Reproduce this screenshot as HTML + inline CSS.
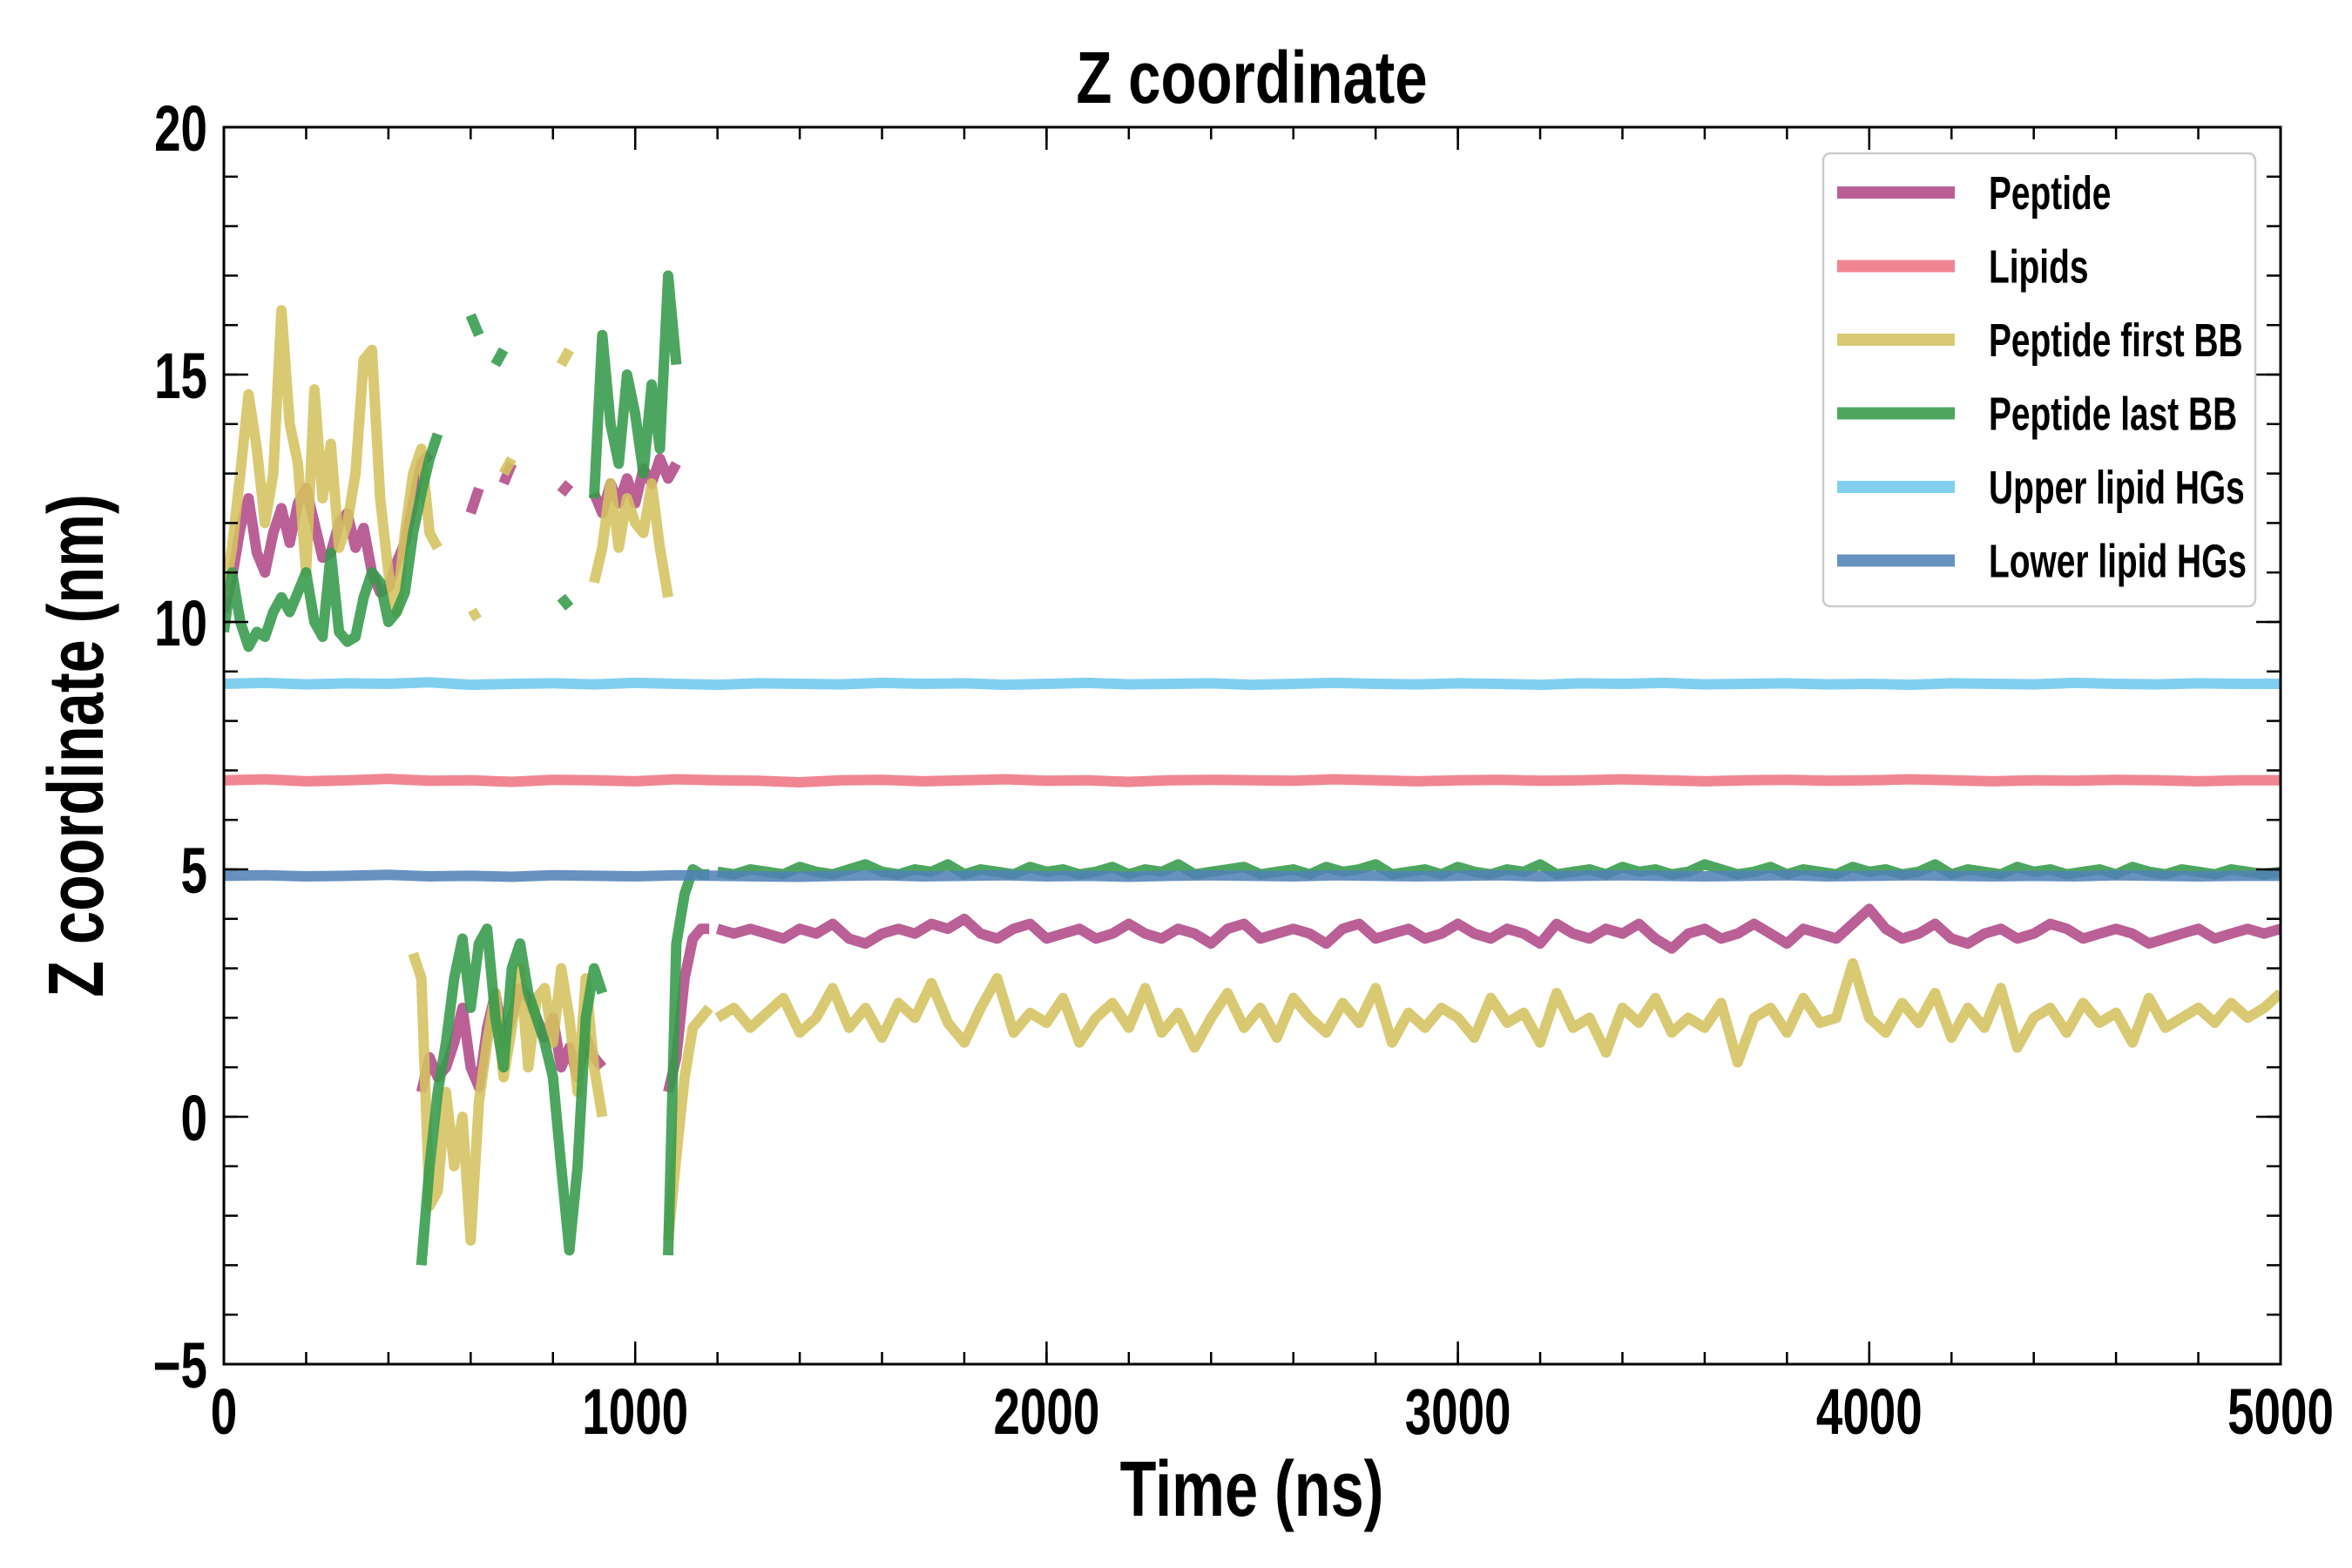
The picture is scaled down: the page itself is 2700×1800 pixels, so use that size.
<!DOCTYPE html>
<html><head><meta charset="utf-8">
<style>
html,body{margin:0;padding:0;background:#fff;}
svg{display:block;}
text{font-family:"Liberation Sans",sans-serif;font-weight:bold;fill:#000;}
</style></head>
<body>
<svg id="chart" width="2700" height="1800" viewBox="0 0 2700 1800" xmlns="http://www.w3.org/2000/svg">
<rect width="2700" height="1800" fill="#fff"/>
<text class="cond" data-r="0.8" x="1437" y="118" text-anchor="middle" font-size="84">Z coordinate</text>
<text class="cond" data-r="0.76" x="1437" y="1740" text-anchor="middle" font-size="90">Time (ns)</text>
<text class="cond" data-r="0.76" transform="translate(118,856) rotate(-90)" text-anchor="middle" font-size="90">Z coordinate (nm)</text>
<g id="marks"></g>
<g id="axes"></g>
<g id="legend"></g>
</svg>
<script>
const xTicks = [0,1000,2000,3000,4000,5000];
const yTicks = [-5,0,5,10,15,20];
const yTickLabels = ["\u22125","0","5","10","15","20"];
const seriesNames = ["Peptide","Lipids","Peptide first BB","Peptide last BB","Upper lipid HGs","Lower lipid HGs"];
const seriesColors = ["#b04a88","#ee7583","#d4c15e","#349a4a","#6fc8ec","#5282b6"];

// early window: t = 0..1180 step 20 (60 points); null = gap
const peptideHigh = [10.2,10.9,11.9,12.5,11.4,11.0,11.8,12.3,11.6,12.4,12.7,12.0,11.3,11.4,12.0,12.2,11.5,11.9,11.0,10.6,10.7,11.2,11.6,12.4,13.2,13.4,null,null,null,null,12.2,12.7,null,null,12.8,13.2,null,null,null,null,null,12.6,12.8,null,null,12.6,12.2,12.8,12.4,12.9,12.4,13.1,12.8,13.3,12.9,13.2,null,null,null,null];
const peptideLow = [null,null,null,null,null,null,null,null,null,null,null,null,null,null,null,null,null,null,null,null,null,null,null,null,0.5,1.2,0.8,1.0,1.5,2.2,1.0,0.6,1.8,2.5,1.5,2.0,2.6,2.4,2.0,1.6,2.0,1.0,1.4,0.8,1.6,1.2,1.0,null,null,null,null,null,null,null,0.5,1.2,2.8,3.6,3.8,3.8];
const firstBBHigh = [10.5,11.5,13.0,14.6,13.5,12.0,13.0,16.3,14.0,13.2,11.0,14.7,12.5,13.6,11.5,12.0,13.0,15.3,15.5,12.5,11.0,10.2,11.8,13.0,13.5,11.8,11.5,null,11.6,null,10.1,10.2,null,null,13.0,13.3,null,null,null,null,null,15.2,15.5,null,null,10.8,11.5,12.8,11.5,12.5,12.0,11.8,12.8,11.5,10.5,null,null,null,null,null];
const firstBBLow = [null,null,null,null,null,null,null,null,null,null,null,null,null,null,null,null,null,null,null,null,null,null,null,3.3,2.8,-1.8,-1.5,0.5,-1.0,0.0,-2.5,0.3,1.5,2.5,0.8,1.8,3.0,1.0,2.4,2.6,1.5,3.0,2.0,0.5,2.8,1.0,0.0,null,null,null,null,null,null,null,-2.5,-0.8,0.8,1.8,2.0,2.2];
const lastBBHigh = [9.8,11.0,10.0,9.5,9.8,9.7,10.2,10.5,10.2,10.6,11.0,10.0,9.7,11.4,9.8,9.6,9.7,10.5,11.0,10.8,10.0,10.2,10.6,11.8,12.6,13.3,13.8,null,null,null,16.2,15.8,null,15.2,15.5,null,null,null,null,null,null,10.5,10.3,null,null,12.5,15.8,14.0,13.2,15.0,14.2,13.0,14.8,13.5,17.0,15.2,null,null,null,null];
const lastBBLow = [null,null,null,null,null,null,null,null,null,null,null,null,null,null,null,null,null,null,null,null,null,null,null,null,-3.0,-1.0,0.5,1.5,2.8,3.6,2.2,3.5,3.8,2.0,1.0,3.0,3.5,2.5,2.0,1.5,0.8,-1.0,-2.7,-1.0,2.0,3.0,2.5,null,null,null,null,null,null,null,-2.8,3.5,4.5,5.0,4.9,4.9];

// late window: 1200..5000 evenly spaced
const peptideLate = [3.8,3.7,3.8,3.7,3.6,3.8,3.7,3.9,3.6,3.5,3.7,3.8,3.7,3.9,3.8,4.0,3.7,3.6,3.8,3.9,3.6,3.7,3.8,3.6,3.7,3.9,3.7,3.6,3.8,3.7,3.5,3.8,3.9,3.6,3.7,3.8,3.7,3.5,3.8,3.9,3.6,3.7,3.8,3.6,3.7,3.9,3.7,3.6,3.8,3.7,3.5,3.9,3.7,3.6,3.8,3.7,3.9,3.6,3.4,3.7,3.8,3.6,3.7,3.9,3.7,3.5,3.8,3.7,3.6,3.9,4.2,3.8,3.6,3.7,3.9,3.6,3.5,3.7,3.8,3.6,3.7,3.9,3.8,3.6,3.7,3.8,3.7,3.5,3.6,3.7,3.8,3.6,3.7,3.8,3.7,3.8];
const firstBBLate = [2.0,2.2,1.8,2.1,2.4,1.7,2.0,2.6,1.8,2.2,1.6,2.3,2.0,2.7,1.9,1.5,2.2,2.8,1.7,2.1,1.9,2.4,1.5,2.0,2.3,1.8,2.6,1.7,2.1,1.4,2.0,2.5,1.8,2.2,1.6,2.4,2.0,1.7,2.3,1.9,2.6,1.5,2.1,1.8,2.2,2.0,1.6,2.4,1.9,2.1,1.5,2.5,1.8,2.0,1.3,2.2,1.9,2.4,1.7,2.0,1.8,2.3,1.1,2.0,2.2,1.7,2.4,1.9,2.0,3.1,2.0,1.7,2.3,1.9,2.5,1.6,2.2,1.8,2.6,1.4,2.0,2.2,1.7,2.3,1.9,2.1,1.5,2.4,1.8,2.0,2.2,1.9,2.3,2.0,2.2,2.5];
const lastBBLate = [4.95,4.9,5.0,4.95,4.9,5.05,4.95,4.9,5.0,5.1,4.95,4.9,5.0,4.95,5.1,4.9,5.0,4.95,4.9,5.05,4.95,5.0,4.9,4.95,5.05,4.9,5.0,4.95,5.1,4.9,4.95,5.0,5.05,4.9,4.95,5.0,4.9,5.05,4.95,5.0,5.1,4.9,4.95,5.0,4.9,5.05,4.95,4.9,5.0,4.95,5.1,4.9,4.95,5.0,4.9,5.05,4.95,5.0,4.9,4.95,5.1,5.0,4.9,4.95,5.05,4.9,5.0,4.95,4.9,5.05,4.95,5.0,4.9,4.95,5.1,4.9,5.0,4.95,4.9,5.05,4.95,5.0,4.9,4.95,5.0,4.9,5.05,4.95,4.9,5.0,4.95,4.9,5.0,4.95,4.9,4.95];

// flat series: 0..5000 evenly spaced
const lipidsVals = [6.8,6.82,6.78,6.8,6.83,6.79,6.8,6.77,6.81,6.8,6.78,6.82,6.8,6.79,6.76,6.8,6.81,6.78,6.8,6.82,6.79,6.8,6.77,6.8,6.81,6.8,6.79,6.82,6.8,6.78,6.8,6.81,6.79,6.8,6.82,6.8,6.78,6.8,6.81,6.79,6.8,6.82,6.8,6.78,6.8,6.79,6.81,6.8,6.78,6.8,6.8];
const upperVals = [8.75,8.77,8.74,8.76,8.75,8.78,8.73,8.75,8.76,8.74,8.77,8.75,8.73,8.76,8.75,8.74,8.77,8.75,8.76,8.73,8.75,8.77,8.74,8.75,8.76,8.73,8.75,8.77,8.75,8.74,8.76,8.75,8.73,8.76,8.75,8.77,8.74,8.75,8.76,8.74,8.75,8.73,8.76,8.75,8.74,8.77,8.75,8.74,8.76,8.75,8.75];
const lowerVals = [4.87,4.88,4.86,4.87,4.89,4.86,4.87,4.85,4.88,4.87,4.86,4.88,4.87,4.86,4.85,4.87,4.88,4.86,4.87,4.88,4.86,4.87,4.85,4.87,4.88,4.87,4.86,4.88,4.87,4.86,4.87,4.88,4.86,4.87,4.88,4.87,4.86,4.87,4.88,4.86,4.87,4.88,4.87,4.86,4.87,4.86,4.88,4.87,4.86,4.87,4.87];

const L=257,R=2618,T=146,B=1566;
const xMin=0,xMax=5000,yMin=-5,yMax=20;
function sx(v){return L+(v-xMin)/(xMax-xMin)*(R-L);}
function sy(v){return B-(v-yMin)/(yMax-yMin)*(B-T);}
const NS="http://www.w3.org/2000/svg";
const marks=document.getElementById('marks');
const axes=document.getElementById('axes');
const legend=document.getElementById('legend');

function earlyT(i){return i*20;}
function spreadT(i,n,a,b){return a+i*(b-a)/(n-1);}

function drawPath(vals,tFn,color,name){
  let d="",pen=false;
  for(let i=0;i<vals.length;i++){
    const v=vals[i];
    if(v===null){pen=false;continue;}
    d+=(pen?"L":"M")+sx(tFn(i)).toFixed(1)+","+sy(v).toFixed(1);
    pen=true;
  }
  const p=document.createElementNS(NS,'path');
  p.setAttribute('d',d);
  p.setAttribute('fill','none');
  p.setAttribute('stroke',color);
  p.setAttribute('stroke-width','12');
  p.setAttribute('stroke-opacity','0.88');
  p.setAttribute('stroke-linejoin','round');
  
  
  marks.appendChild(p);
}
const clip=document.createElementNS(NS,'clipPath');clip.setAttribute('id','pc');
const cr=document.createElementNS(NS,'rect');cr.setAttribute('x',L);cr.setAttribute('y',T);cr.setAttribute('width',R-L);cr.setAttribute('height',B-T);
clip.appendChild(cr);document.getElementById('chart').appendChild(clip);
marks.setAttribute('clip-path','url(#pc)');

drawPath(peptideHigh,earlyT,seriesColors[0],'peptide-line-high');
drawPath(peptideLow,earlyT,seriesColors[0],'peptide-line-low');
drawPath(peptideLate,i=>spreadT(i,peptideLate.length,1200,5000),seriesColors[0],'peptide-line-late');
drawPath(lipidsVals,i=>spreadT(i,lipidsVals.length,0,5000),seriesColors[1],'lipids-line');
drawPath(firstBBHigh,earlyT,seriesColors[2],'first-bb-line-high');
drawPath(firstBBLow,earlyT,seriesColors[2],'first-bb-line-low');
drawPath(firstBBLate,i=>spreadT(i,firstBBLate.length,1200,5000),seriesColors[2],'first-bb-line-late');
drawPath(lastBBHigh,earlyT,seriesColors[3],'last-bb-line-high');
drawPath(lastBBLow,earlyT,seriesColors[3],'last-bb-line-low');
drawPath(lastBBLate,i=>spreadT(i,lastBBLate.length,1200,5000),seriesColors[3],'last-bb-line-late');
drawPath(upperVals,i=>spreadT(i,upperVals.length,0,5000),seriesColors[4],'upper-hg-line');
drawPath(lowerVals,i=>spreadT(i,lowerVals.length,0,5000),seriesColors[5],'lower-hg-line');

function line(x1,y1,x2,y2,w,name){
  const l=document.createElementNS(NS,'line');
  l.setAttribute('x1',x1);l.setAttribute('y1',y1);l.setAttribute('x2',x2);l.setAttribute('y2',y2);
  l.setAttribute('stroke','#000');l.setAttribute('stroke-width',w);
  
  
  axes.appendChild(l);
}
function text(x,y,s,size,anchor,name){
  const t=document.createElementNS(NS,'text');
  t.setAttribute('x',x);t.setAttribute('y',y);t.setAttribute('font-size',size);t.setAttribute('text-anchor',anchor);
  t.setAttribute('class','cond');t.setAttribute('data-r','0.74');
  t.textContent=s;
  
  
  axes.appendChild(t);
  return t;
}
for(let v=xMin;v<=xMax;v+=200){
  const x=sx(v);
  line(x,B,x,B-14,2.5,'x-minor-tick');
  line(x,T,x,T+14,2.5,'x-minor-tick');
}
for(let v=yMin;v<=yMax;v+=1){
  const y=sy(v);
  line(L,y,L+16,y,2.5,'y-minor-tick');
  line(R,y,R-16,y,2.5,'y-minor-tick');
}
xTicks.forEach(v=>{
  const x=sx(v);
  line(x,B,x,B-26,2.5,'x-major-tick');
  line(x,T,x,T+26,2.5,'x-major-tick');
  text(x,1646,String(v),74,'middle','x-tick-label');
});
yTicks.forEach((v,i)=>{
  const y=sy(v);
  line(L,y,L+28,y,2.5,'y-major-tick');
  line(R,y,R-28,y,2.5,'y-major-tick');
  text(238,y+27,yTickLabels[i],74,'end','y-tick-label');
});
const frame=document.createElementNS(NS,'rect');
frame.setAttribute('x',L);frame.setAttribute('y',T);frame.setAttribute('width',R-L);frame.setAttribute('height',B-T);
frame.setAttribute('fill','none');frame.setAttribute('stroke','#000');frame.setAttribute('stroke-width','3');


axes.appendChild(frame);

const lb=document.createElementNS(NS,'rect');
lb.setAttribute('x',2093);lb.setAttribute('y',176);lb.setAttribute('width',496);lb.setAttribute('height',520);
lb.setAttribute('rx',8);lb.setAttribute('fill','#fff');lb.setAttribute('fill-opacity','0.9');
lb.setAttribute('stroke','#ccc');lb.setAttribute('stroke-width','2.5');


legend.appendChild(lb);
seriesNames.forEach((n,i)=>{
  const y=221+i*84.5;
  const g=document.createElementNS(NS,'g');
  
  
  const l=document.createElementNS(NS,'line');
  l.setAttribute('x1',2109);l.setAttribute('x2',2244);l.setAttribute('y1',y);l.setAttribute('y2',y);
  l.setAttribute('stroke',seriesColors[i]);l.setAttribute('stroke-width',14);l.setAttribute('stroke-opacity',0.88);
  
  
  const t=document.createElementNS(NS,'text');
  t.setAttribute('x',2283);t.setAttribute('y',y+19);t.setAttribute('font-size',54);
  t.setAttribute('class','cond');t.setAttribute('data-r','0.72');
  t.textContent=n;
  
  
  g.appendChild(l);g.appendChild(t);legend.appendChild(g);
});
document.querySelectorAll('text.cond').forEach(t=>{
  const w=t.getComputedTextLength();
  t.setAttribute('textLength',(w*parseFloat(t.getAttribute('data-r'))).toFixed(1));
  t.setAttribute('lengthAdjust','spacingAndGlyphs');
});
</script>
</body></html>
